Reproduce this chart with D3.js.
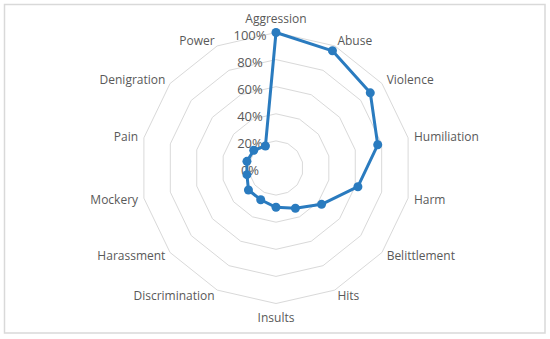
<!DOCTYPE html>
<html>
<head>
<meta charset="utf-8">
<script src="https://cdn.jsdelivr.net/npm/d3@7"></script>
<style>
body{margin:0;background:#fff;}
</style>
</head>
<body>
<div id="Container"></div>
<script>
var categories=["Aggression","Abuse","Violence","Humiliation","Harm","Belittlement","Hits","Insults","Discrimination","Harassment","Mockery","Pain","Denigration","Power"];
var values=[1.00,0.96,0.89,0.77,0.62,0.43,0.33,0.29,0.26,0.26,0.22,0.22,0.21,0.18];
var ticks=[0,0.2,0.4,0.6,0.8,1.0];
var tickLabels=["0%","20%","40%","60%","80%","100%"];

function draw_radar()
{
	var width=550,height=339;
	var cx=276,cy=168,R=135.5;
	var svg=d3.select("#Container")
				.append("svg")
				.attr("width",width)
				.attr("height",height);

	svg.append("rect")
		.attr("x",4.5).attr("y",4.5)
		.attr("width",540.5).attr("height",328.5)
		.style("fill","#fff")
		.style("stroke","#d9d9d9")
		.style("stroke-width",1.5);

	var r=d3.scaleLinear().domain([0,1]).range([0,R]);
	var angle=d3.scaleLinear().domain([0,categories.length]).range([0,2*Math.PI]);
	var g=svg.append("g").attr("transform","translate("+cx+","+cy+")");

	// rings
	var ring=d3.lineRadial()
				.angle(function(d,i){return angle(i);})
				.radius(function(d){return r(d);})
				.curve(d3.curveLinearClosed);
	g.selectAll(".ring")
		.data(ticks.filter(function(t){return t>0;}))
		.enter().append("path")
		.attr("d",function(t){return ring(categories.map(function(){return t;}));})
		.style("fill","none")
		.style("stroke","#d9d9d9")
		.style("stroke-width",1);

	// tick labels
	g.selectAll(".tick")
		.data(ticks)
		.enter().append("text")
		.attr("x",-26)
		.attr("y",function(t){return -r(t)+2.5;})
		.attr("dy","0.35em")
		.attr("text-anchor","middle")
		.text(function(t,i){return tickLabels[i];})
		.style("fill","#595959")
		.style("font-family","'Open Sans',sans-serif")
		.style("font-size","13px");

	// category labels
	g.selectAll(".cat")
		.data(categories)
		.enter().append("text")
		.each(function(d,i){
			var a=angle(i),s=Math.sin(a),c=Math.cos(a);
			var el=d3.select(this);
			if(Math.abs(s)<0.1){
				var rr=R+14;
				el.attr("x",s*rr).attr("y",-c*rr).attr("text-anchor","middle");
			}else{
				var rr=R+6;
				el.attr("x",s*rr).attr("y",-c*rr).attr("text-anchor",s>0?"start":"end");
			}
		})
		.attr("dy","0.35em")
		.text(function(d){return d;})
		.style("fill","#595959")
		.style("font-family","'Open Sans',sans-serif")
		.style("font-size","12px");

	// series
	var line=d3.lineRadial()
				.angle(function(d,i){return angle(i);})
				.radius(function(d){return r(d);})
				.curve(d3.curveLinearClosed);
	g.append("path")
		.attr("d",line(values))
		.style("fill","none")
		.style("stroke","#2a7bbf")
		.style("stroke-width",3)
		.style("stroke-linejoin","round");

	g.selectAll(".dot")
		.data(values)
		.enter().append("circle")
		.attr("cx",function(d,i){return r(d)*Math.sin(angle(i));})
		.attr("cy",function(d,i){return -r(d)*Math.cos(angle(i));})
		.attr("r",4.5)
		.style("fill","#2a7bbf");
}
draw_radar();
</script>
</body>
</html>
